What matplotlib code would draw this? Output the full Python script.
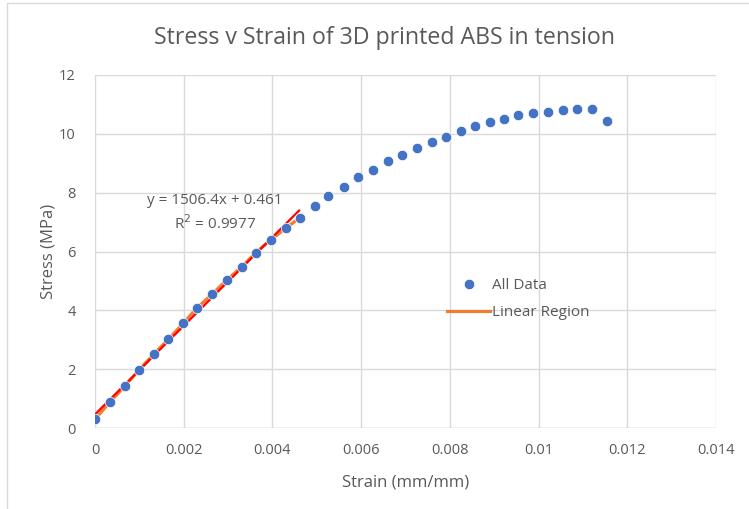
import numpy as np
import matplotlib
matplotlib.use('Agg')
import matplotlib.pyplot as plt
from matplotlib.patches import Rectangle

# Data
strain = [0.0, 0.00034, 0.00068, 0.00099, 0.00133, 0.00165, 0.00199, 0.00229,
          0.00264, 0.00297, 0.00331, 0.00362, 0.00396, 0.00430, 0.00462,
          0.00495, 0.00526, 0.00561, 0.00594, 0.00626, 0.00660, 0.00693,
          0.00725, 0.00759, 0.00791, 0.00825, 0.00857, 0.00891, 0.00922,
          0.00954, 0.00988, 0.01022, 0.01056, 0.01086, 0.01121, 0.01154]
stress = [0.30, 0.89, 1.43, 1.97, 2.52, 3.01, 3.56, 4.07,
          4.55, 5.03, 5.48, 5.96, 6.39, 6.79, 7.15,
          7.56, 7.90, 8.20, 8.52, 8.77, 9.06, 9.28,
          9.53, 9.71, 9.90, 10.08, 10.27, 10.41, 10.50,
          10.64, 10.70, 10.75, 10.81, 10.83, 10.83, 10.45]
n_linear = 15  # points used for the linear region

slope, intercept, r2 = 1506.4, 0.461, 0.9977
fit_x = [0.0, 0.0046]

x_ticks = [0, 0.002, 0.004, 0.006, 0.008, 0.01, 0.012, 0.014]
x_labels = ['0', '0.002', '0.004', '0.006', '0.008', '0.01', '0.012', '0.014']
y_ticks = [0, 2, 4, 6, 8, 10, 12]

txt = '#595959'
grid = '#d9d9d9'
plt.rcParams['font.family'] = ['Open Sans', 'DejaVu Sans']

fig = plt.figure(figsize=(7.49, 5.09), dpi=100)
# outer chart border
fig.patches.append(Rectangle((7 / 749, -0.1), 1.2, 1 - 3 / 509 + 0.1,
                             transform=fig.transFigure, fill=False,
                             edgecolor=grid, linewidth=1))

ax = fig.add_axes([95 / 749, 81 / 509, 621 / 749, 353 / 509])

ax.plot(strain[:n_linear], stress[:n_linear], color='#ED7D31', lw=2.3,
        label='Linear Region', zorder=2)
fx = np.array(fit_x)
ax.plot(fx, slope * fx + intercept, color='red', lw=1.6, zorder=3)
ax.plot(strain, stress, 'o', color='#4472C4', ms=7.5, mec='white', mew=0.5,
        label='All Data', zorder=4)

ax.set_xlim(0, 0.014)
ax.set_ylim(0, 12)
ax.set_xticks(x_ticks)
ax.set_xticklabels(x_labels)
ax.set_yticks(y_ticks)
ax.grid(True, color=grid, lw=1)
ax.set_axisbelow(True)
for s in ax.spines.values():
    s.set_visible(False)
ax.axhline(0, color=grid, lw=1, zorder=1)
ax.tick_params(length=0, colors=txt, labelsize=10.5, pad=11)
ax.tick_params(axis='y', pad=14)

ax.set_xlabel('Strain (mm/mm)', color=txt, fontsize=12, labelpad=12)
ax.set_ylabel('Stress (MPa)', color=txt, fontsize=12, labelpad=2)
fig.text(384 / 749, 1 - 38 / 509,
         'Stress v Strain of 3D printed ABS in tension',
         ha='center', va='center', color=txt, fontsize=16.7)

ax.text(0.0027, 7.75, f'y = {slope}x + {intercept}', ha='center', va='center',
        color=txt, fontsize=11)
ax.text(0.0027, 6.95, f'R$^2$ = {r2}', ha='center', va='center',
        color=txt, fontsize=11)

h, l = ax.get_legend_handles_labels()
ax.legend([h[1], h[0]], [l[1], l[0]], loc='center left',
          bbox_to_anchor=(0.545, 0.365), frameon=False, fontsize=11,
          labelcolor=txt, handlelength=2.8, handletextpad=0.1,
          labelspacing=0.8)

fig.savefig('out.png', dpi=100)
